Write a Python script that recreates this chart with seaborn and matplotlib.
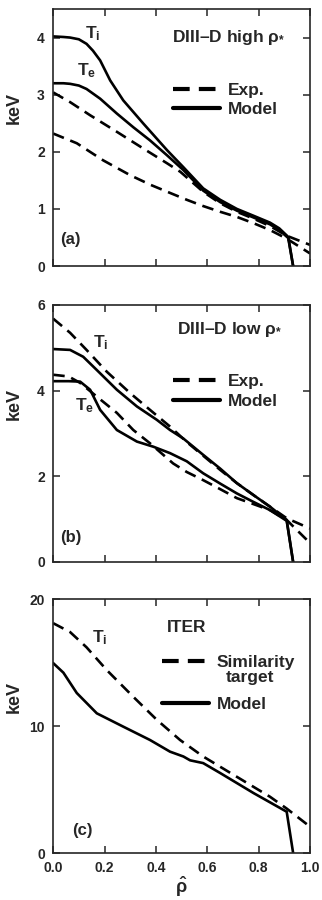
import matplotlib
matplotlib.use("Agg")
import matplotlib.pyplot as plt
from matplotlib.lines import Line2D
import seaborn as sns

sns.set_style("ticks")
plt.rcParams['font.family'] = ['Liberation Sans', 'DejaVu Sans']
plt.rcParams['font.weight'] = 'bold'
plt.rcParams['axes.labelweight'] = 'bold'
plt.rcParams['mathtext.fontset'] = 'custom'
plt.rcParams['mathtext.rm'] = 'Liberation Sans:bold'
plt.rcParams['mathtext.it'] = 'Liberation Sans:bold'
plt.rcParams['mathtext.bf'] = 'Liberation Sans:bold'

# ---------------- data ----------------
# Panel (a) DIII-D high rho*
a_ti_mod_x = [0.0, 0.04, 0.066, 0.1, 0.13, 0.155, 0.183, 0.222, 0.273, 0.35, 0.443, 0.507,
              0.584, 0.65, 0.715, 0.78, 0.844, 0.88, 0.915, 0.934]
a_ti_mod_y = [4.02, 4.01, 4.0, 3.97, 3.89, 3.77, 3.6, 3.25, 2.9, 2.5, 2.03, 1.73,
              1.36, 1.16, 1.0, 0.88, 0.76, 0.66, 0.51, 0.0]
a_te_mod_x = [0.0, 0.04, 0.066, 0.1, 0.13, 0.183, 0.248, 0.312, 0.377, 0.443, 0.507,
              0.584, 0.65, 0.715, 0.78, 0.844, 0.88, 0.915, 0.934]
a_te_mod_y = [3.2, 3.2, 3.19, 3.16, 3.10, 2.93, 2.67, 2.43, 2.2, 1.94, 1.68,
              1.32, 1.12, 0.97, 0.85, 0.73, 0.63, 0.49, 0.0]
a_ti_exp_x = [0.0, 0.066, 0.144, 0.248, 0.35, 0.443, 0.495, 0.584, 0.65, 0.715, 0.78, 0.844, 0.909, 1.0]
a_ti_exp_y = [3.04, 2.87, 2.64, 2.35, 2.06, 1.8, 1.65, 1.30, 1.10, 0.95, 0.83, 0.70, 0.53, 0.37]
a_te_exp_x = [0.0, 0.092, 0.195, 0.3, 0.38, 0.455, 0.52, 0.584, 0.65, 0.715, 0.78, 0.844, 0.909, 1.0]
a_te_exp_y = [2.32, 2.15, 1.85, 1.59, 1.42, 1.28, 1.16, 1.05, 0.95, 0.86, 0.75, 0.63, 0.48, 0.22]

# Panel (b) DIII-D low rho*
b_ti_exp_x = [0.0, 0.066, 0.13, 0.209, 0.3, 0.377, 0.455, 0.52, 0.584, 0.65, 0.715, 0.78, 0.844, 0.909, 1.0]
b_ti_exp_y = [5.68, 5.35, 4.95, 4.44, 3.94, 3.55, 3.16, 2.8, 2.48, 2.15, 1.84, 1.56, 1.29, 1.02, 0.78]
b_ti_mod_x = [0.0, 0.066, 0.117, 0.17, 0.248, 0.326, 0.403, 0.455, 0.507, 0.584, 0.65, 0.715,
              0.78, 0.844, 0.909, 0.934]
b_ti_mod_y = [4.97, 4.95, 4.79, 4.48, 4.02, 3.63, 3.32, 3.08, 2.88, 2.5, 2.18, 1.84,
              1.56, 1.29, 0.98, 0.0]
b_te_exp_x = [0.0, 0.06, 0.105, 0.17, 0.248, 0.312, 0.377, 0.467, 0.52, 0.584, 0.65, 0.715,
              0.78, 0.844, 0.909, 1.0]
b_te_exp_y = [4.37, 4.33, 4.18, 3.86, 3.48, 3.08, 2.77, 2.3, 2.1, 1.91, 1.7, 1.49,
              1.35, 1.21, 0.98, 0.44]
b_te_mod_x = [0.0, 0.06, 0.105, 0.144, 0.183, 0.248, 0.326, 0.39, 0.455, 0.52, 0.584, 0.65,
              0.715, 0.78, 0.844, 0.909, 0.934]
b_te_mod_y = [4.22, 4.22, 4.21, 4.02, 3.55, 3.08, 2.81, 2.69, 2.54, 2.35, 2.07, 1.83,
              1.6, 1.4, 1.21, 0.96, 0.0]

# Panel (c) ITER
c_ti_tgt_x = [0.0, 0.066, 0.13, 0.209, 0.312, 0.403, 0.494, 0.584, 0.715, 0.844, 0.909, 1.0]
c_ti_tgt_y = [18.1, 17.4, 16.2, 14.4, 12.3, 10.5, 8.9, 7.6, 6.0, 4.43, 3.5, 2.07]
c_ti_mod_x = [0.0, 0.04, 0.092, 0.17, 0.273, 0.377, 0.455, 0.507, 0.533, 0.584, 0.65, 0.78, 0.909, 0.934]
c_ti_mod_y = [14.96, 14.2, 12.6, 11.0, 9.95, 8.9, 7.98, 7.6, 7.3, 7.08, 6.3, 4.72, 3.25, 0.0]

xticks = [0.0, 0.2, 0.4, 0.6, 0.8, 1.0]

# ---------------- figure ----------------
fig = plt.figure(figsize=(3.22, 9.0), dpi=100)
L, W = 0.165, 0.798
ax_a = fig.add_axes([L, 0.7044, W, 0.2856])
ax_b = fig.add_axes([L, 0.3756, W, 0.2856])
ax_c = fig.add_axes([L, 0.0522, W, 0.2822])

LW = 1.9
DASH = (0, (4.4, 2.6))
FS = 12.5

def line(ax, x, y, dashed):
    sns.lineplot(x=x, y=y, ax=ax, color='black', lw=LW,
                 linestyle=DASH if dashed else '-', sort=False)

def style(ax, ylim, yticks, show_x):
    ax.set_xlim(0, 1)
    ax.set_ylim(*ylim)
    ax.set_xticks(xticks)
    ax.set_yticks(yticks)
    ax.tick_params(direction='in', top=True, right=True, length=5, width=1.1,
                   labelsize=10)
    ax.tick_params(axis='y', pad=6)
    ax.tick_params(axis='x', pad=6)
    if show_x:
        ax.set_xticklabels([f"{t:.1f}" for t in xticks], fontweight='bold')
    else:
        ax.set_xticklabels([])
    ax.set_yticklabels([str(t) for t in yticks], fontweight='bold')
    for s in ax.spines.values():
        s.set_linewidth(1.2)
        s.set_visible(True)
    ax.set_ylabel('keV', fontsize=13, fontweight='bold')
    ax.yaxis.set_label_coords(-0.118, 0.615)

def legend(ax, labels, anchor, spacing):
    handles = [Line2D([0], [0], color='black', lw=3.0, linestyle=(0, (4.0, 2.2))),
               Line2D([0], [0], color='black', lw=3.0)]
    ax.legend(handles, labels, loc='center left', bbox_to_anchor=anchor,
              frameon=False, handlelength=2.7, handletextpad=0.45,
              labelspacing=spacing, borderaxespad=0, borderpad=0,
              prop={'size': FS, 'weight': 'bold'})

def sub(ax, x, y, s):
    ax.text(x, y, r'$\mathrm{T_%s}$' % s, fontsize=FS, va='baseline', ha='left')

# (a)
line(ax_a, a_ti_exp_x, a_ti_exp_y, True)
line(ax_a, a_te_exp_x, a_te_exp_y, True)
line(ax_a, a_ti_mod_x, a_ti_mod_y, False)
line(ax_a, a_te_mod_x, a_te_mod_y, False)
style(ax_a, (0, 4.5), [0, 1, 2, 3, 4], False)
sub(ax_a, 0.125, 3.98, 'i')
sub(ax_a, 0.092, 3.34, 'e')
ax_a.text(0.463, 0.891, r'DIII–D high ρ$_{*}$', transform=ax_a.transAxes,
          fontsize=FS, fontweight='bold', va='center', ha='left')
ax_a.text(0.027, 0.103, '(a)', transform=ax_a.transAxes, fontsize=12,
          fontweight='bold', va='center', ha='left')
legend(ax_a, ['Exp.', 'Model'], (0.467, 0.646), 0.25)

# (b)
line(ax_b, b_ti_exp_x, b_ti_exp_y, True)
line(ax_b, b_te_exp_x, b_te_exp_y, True)
line(ax_b, b_ti_mod_x, b_ti_mod_y, False)
line(ax_b, b_te_mod_x, b_te_mod_y, False)
style(ax_b, (0, 6), [0, 2, 4, 6], False)
sub(ax_b, 0.156, 5.02, 'i')
sub(ax_b, 0.086, 3.55, 'e')
ax_b.text(0.482, 0.903, r'DIII–D low ρ$_{*}$', transform=ax_b.transAxes,
          fontsize=FS, fontweight='bold', va='center', ha='left')
ax_b.text(0.027, 0.097, '(b)', transform=ax_b.transAxes, fontsize=12,
          fontweight='bold', va='center', ha='left')
legend(ax_b, ['Exp.', 'Model'], (0.467, 0.663), 0.25)

# (c)
line(ax_c, c_ti_tgt_x, c_ti_tgt_y, True)
line(ax_c, c_ti_mod_x, c_ti_mod_y, False)
style(ax_c, (0, 20), [0, 10, 20], True)
sub(ax_c, 0.152, 16.6, 'i')
ax_c.text(0.443, 0.886, 'ITER', transform=ax_c.transAxes,
          fontsize=FS, fontweight='bold', va='center', ha='left')
ax_c.text(0.074, 0.09, '(c)', transform=ax_c.transAxes, fontsize=12,
          fontweight='bold', va='center', ha='left')
legend(ax_c, ['Similarity', 'Model'], (0.424, 0.668), 1.55)
ax_c.text(0.767, 0.693, 'target', transform=ax_c.transAxes,
          fontsize=FS, fontweight='bold', va='center', ha='center')
ax_c.set_xlabel(r'$\hat{\rho}$', fontsize=13, labelpad=0)

fig.savefig('out.png', dpi=100)
